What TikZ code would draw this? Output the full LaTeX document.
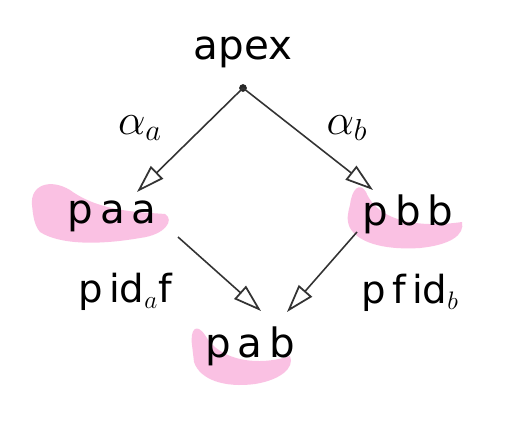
\documentclass[tikz,border=0pt]{standalone}
\usepackage{fontspec}
\setmainfont{DejaVu Sans}
\usetikzlibrary{arrows.meta}
\begin{document}
\begin{tikzpicture}[x=0.02cm,y=-0.02cm,
  lbl/.style={font=\fontsize{22}{26}\selectfont, inner sep=1pt},
  obj/.style={font=\fontsize{23}{28}\selectfont, inner sep=1pt},
  arr/.style={draw=black!80, line width=0.9pt, -{Triangle[open, length=16pt, width=10pt, line width=1pt]}},
  hl/.style={fill=magenta!60, opacity=0.4}
]
\useasboundingbox (0,0) rectangle (520,426);
\fill[white] (0,0) rectangle (520,426);
% pink highlights
\fill[hl] (32,205) .. controls (30,185) and (50,178) .. (70,190) .. controls (100,212) and (140,212) .. (165,214)
  .. controls (175,220) and (165,235) .. (140,238) .. controls (100,245) and (60,245) .. (40,232) .. controls (34,225) and (33,215) .. (32,205) -- cycle;
\fill[hl] (350,205) .. controls (352,188) and (360,182) .. (366,192) .. controls (378,222) and (420,228) .. (462,222)
  .. controls (465,235) and (450,245) .. (420,248) .. controls (390,250) and (360,245) .. (350,228) .. controls (346,220) and (348,212) .. (350,205) -- cycle;
\fill[hl] (192,345) .. controls (190,330) and (196,322) .. (205,335) .. controls (220,362) and (260,366) .. (290,356)
  .. controls (295,368) and (280,380) .. (255,384) .. controls (225,388) and (200,380) .. (194,362) -- cycle;
% nodes
\node[obj] (apexlbl) at (243,52) {apex};
\fill[black!85] (243,88) circle (2.2pt);
\coordinate (apex) at (243,88);
\node[obj] (paa) at (112,216) {p\,a\,a};
\node[obj] (pbb) at (408,214) {p\,b\,b};
\node[obj] (pab) at (250,346) {p\,a\,b};
% arrows
\coordinate (paaTip) at (137,192);
\coordinate (pbbTip) at (373,190);
\coordinate (s1) at (178,237);
\coordinate (t1) at (261,311);
\coordinate (s2) at (357,232);
\coordinate (t2) at (287,312);
\draw[arr] (apex) -- (paaTip);
\draw[arr] (apex) -- (pbbTip);
\draw[arr] (s1) -- (t1);
\draw[arr] (s2) -- (t2);
% labels
\node[lbl, font=\fontsize{26}{30}\selectfont] (la) at (140,128) {$\alpha_a$};
\node[lbl, font=\fontsize{26}{30}\selectfont] (lb) at (347,128) {$\alpha_b$};
\node[lbl] (l1) at (125,292) {p\,id$_a$f};
\node[lbl] (l2) at (410,293) {p\,f\,id$_b$};
\end{tikzpicture}
\end{document}
